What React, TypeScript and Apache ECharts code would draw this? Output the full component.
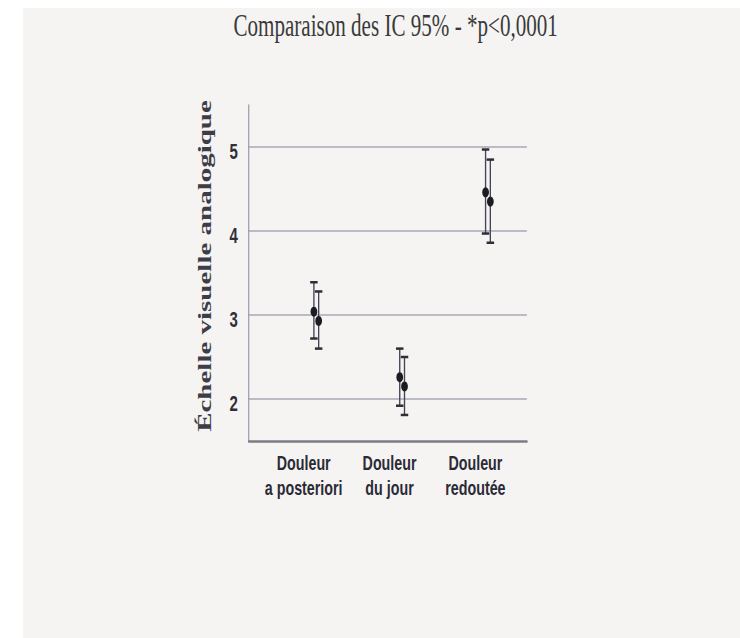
import React, { useEffect, useRef } from 'react';
import * as echarts from 'echarts';

const titleText = 'Comparaison des IC 95% - *p<0,0001';
const yAxisTitle = 'Échelle visuelle analogique';
const categories = ['Douleur\na posteriori', 'Douleur\ndu jour', 'Douleur\nredoutée'];
const yTicks = [2, 3, 4, 5];
const meanA = [3.04, 2.26, 4.46];
const lowA = [2.72, 1.92, 3.97];
const highA = [3.39, 2.6, 4.97];
const meanB = [2.93, 2.15, 4.35];
const lowB = [2.6, 1.81, 3.86];
const highB = [3.28, 2.5, 4.85];

// horizontal compression of the scanned figure
const SX = 0.68;
const W = 717;
const H = 630;
const IW = Math.round(W / SX);

function makeRender(dodge: number) {
  return (params: any, api: any) => {
    const x = api.value(0);
    const lo = api.coord([x, api.value(1)]);
    const hi = api.coord([x, api.value(2)]);
    const m = api.coord([x, api.value(3)]);
    const cx = lo[0] + dodge;
    const cap = 5.5;
    return {
      type: 'group',
      children: [
        { type: 'line', shape: { x1: cx, y1: hi[1], x2: cx, y2: lo[1] }, style: { stroke: '#44435a', lineWidth: 2 } },
        { type: 'line', shape: { x1: cx - cap, y1: hi[1], x2: cx + cap, y2: hi[1] }, style: { stroke: '#2e2e36', lineWidth: 2.5 } },
        { type: 'line', shape: { x1: cx - cap, y1: lo[1], x2: cx + cap, y2: lo[1] }, style: { stroke: '#2e2e36', lineWidth: 2.5 } },
        { type: 'circle', shape: { cx, cy: m[1], r: 5 }, style: { fill: '#1c1c22' } },
      ],
    };
  };
}

export default function App() {
  const ref = useRef<HTMLDivElement>(null);
  useEffect(() => {
    if (!ref.current) return;
    const chart = echarts.init(ref.current, undefined, { renderer: 'svg' });
    const dataA = categories.map((_, i) => [i + 1, lowA[i], highA[i], meanA[i]]);
    const dataB = categories.map((_, i) => [i + 1, lowB[i], highB[i], meanB[i]]);
    chart.setOption({
      animation: false,
      backgroundColor: 'transparent',
      grid: { left: 332, right: IW - 741, top: 97, bottom: H - 433, containLabel: false },
      xAxis: {
        type: 'value',
        min: 0.36,
        max: 3.6,
        splitNumber: 3,
        axisLine: { show: true, lineStyle: { color: '#7c7c84', width: 2.5 } },
        axisTick: { show: false },
        splitLine: { show: false },
        axisLabel: {
          showMinLabel: false,
          showMaxLabel: false,
          margin: 9,
          fontFamily: 'Liberation Sans, Arial, sans-serif',
          fontWeight: 'bold',
          fontSize: 21,
          lineHeight: 25,
          color: '#2b2b36',
          formatter: (v: number) => {
            const i = Math.round(v);
            return Math.abs(v - i) < 1e-6 && i >= 1 && i <= categories.length ? categories[i - 1] : '';
          },
        },
      },
      yAxis: {
        type: 'value',
        min: 1.5,
        max: 5.5,
        splitNumber: 4,
        axisLine: { show: true, lineStyle: { color: '#8a88a8', width: 1.5 } },
        axisTick: { show: false },
        splitLine: { show: true, showMinLine: false, showMaxLine: false, lineStyle: { color: '#a9a9b3', width: 1.6 } },
        axisLabel: {
          showMinLabel: false,
          showMaxLabel: false,
          margin: 16,
          verticalAlign: 'top',
          lineHeight: 8,
          fontFamily: 'Liberation Sans, Arial, sans-serif',
          fontWeight: 'bold',
          fontSize: 22,
          color: '#2f2f38',
          formatter: (v: number) => (yTicks.some((t) => Math.abs(t - v) < 1e-6) ? String(v) : ''),
        },
      },
      graphic: [
        {
          type: 'text',
          x: 548,
          y: 17,
          style: {
            text: titleText,
            fontFamily: 'Liberation Serif, Times New Roman, serif',
            fontSize: 31,
            fill: '#3a3a3a',
            textAlign: 'center',
            textVerticalAlign: 'middle',
            align: 'center',
            verticalAlign: 'middle',
          },
        },
        {
          type: 'text',
          x: 266,
          y: 258,
          rotation: Math.PI / 2,
          style: {
            text: yAxisTitle,
            fontFamily: 'Liberation Serif, Times New Roman, serif',
            fontWeight: 'bold',
            fontSize: 29,
            fill: '#3d3d48',
            textAlign: 'center',
            textVerticalAlign: 'middle',
            align: 'center',
            verticalAlign: 'middle',
          },
        },
      ],
      series: [
        { type: 'custom', name: 'A', data: dataA, encode: { x: 0, y: [1, 2, 3] }, renderItem: makeRender(15), z: 3 },
        { type: 'custom', name: 'B', data: dataB, encode: { x: 0, y: [1, 2, 3] }, renderItem: makeRender(22), z: 4 },
      ],
    });
    return () => chart.dispose();
  }, []);
  return (
    <div
      style={{
        position: 'fixed',
        left: 23,
        top: 8,
        width: W,
        height: H,
        background: '#f5f4f3',
        overflow: 'hidden',
      }}
    >
      <div
        ref={ref}
        style={{ width: IW, height: H, transform: `scaleX(${SX})`, transformOrigin: '0 0' }}
      />
    </div>
  );
}
